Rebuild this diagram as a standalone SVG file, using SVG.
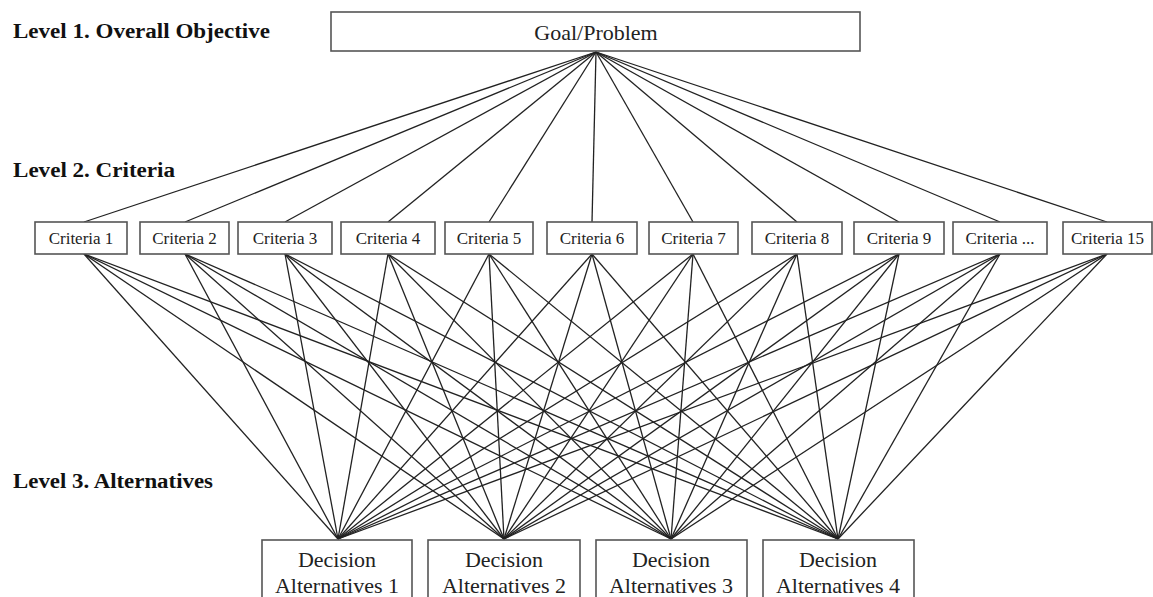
<svg xmlns="http://www.w3.org/2000/svg" width="1153" height="597" viewBox="0 0 1153 597">
<style>
.box{fill:#fff;stroke:#555;stroke-width:1.6}
.lbl{font-family:"Liberation Serif","Times New Roman",serif;font-weight:bold;font-size:20px;fill:#111}
.ct{font-family:"Liberation Serif","Times New Roman",serif;font-size:17px;fill:#222;text-anchor:middle}
.gt{font-family:"Liberation Serif","Times New Roman",serif;font-size:22px;fill:#222;text-anchor:middle}
.at{font-family:"Liberation Serif","Times New Roman",serif;font-size:22px;fill:#222;text-anchor:middle}
.cn line{stroke:#222;stroke-width:1.3}
</style>
<rect width="1153" height="597" fill="#fff"/>
<g id="labels">
<text class="lbl" x="13" y="38" textLength="257" lengthAdjust="spacingAndGlyphs">Level 1. Overall Objective</text>
<text class="lbl" x="13" y="177" textLength="162" lengthAdjust="spacingAndGlyphs">Level 2. Criteria</text>
<text class="lbl" x="13" y="488" textLength="200" lengthAdjust="spacingAndGlyphs">Level 3. Alternatives</text>
</g>
<g class="cn" id="connectors">
<line x1="596" y1="52" x2="84" y2="222"/>
<line x1="596" y1="52" x2="185" y2="222"/>
<line x1="596" y1="52" x2="285" y2="222"/>
<line x1="596" y1="52" x2="388" y2="222"/>
<line x1="596" y1="52" x2="489" y2="222"/>
<line x1="596" y1="52" x2="592" y2="222"/>
<line x1="596" y1="52" x2="693" y2="222"/>
<line x1="596" y1="52" x2="797" y2="222"/>
<line x1="596" y1="52" x2="899" y2="222"/>
<line x1="596" y1="52" x2="1000" y2="222"/>
<line x1="596" y1="52" x2="1107" y2="222"/>
<g id="bottom-lines">
<line x1="84" y1="254" x2="338" y2="539"/><line x1="84" y1="254" x2="504" y2="539"/><line x1="84" y1="254" x2="671" y2="539"/><line x1="84" y1="254" x2="838" y2="539"/>
<line x1="185" y1="254" x2="338" y2="539"/><line x1="185" y1="254" x2="504" y2="539"/><line x1="185" y1="254" x2="671" y2="539"/><line x1="185" y1="254" x2="838" y2="539"/>
<line x1="285" y1="254" x2="338" y2="539"/><line x1="285" y1="254" x2="504" y2="539"/><line x1="285" y1="254" x2="671" y2="539"/><line x1="285" y1="254" x2="838" y2="539"/>
<line x1="388" y1="254" x2="338" y2="539"/><line x1="388" y1="254" x2="504" y2="539"/><line x1="388" y1="254" x2="671" y2="539"/><line x1="388" y1="254" x2="838" y2="539"/>
<line x1="489" y1="254" x2="338" y2="539"/><line x1="489" y1="254" x2="504" y2="539"/><line x1="489" y1="254" x2="671" y2="539"/><line x1="489" y1="254" x2="838" y2="539"/>
<line x1="592" y1="254" x2="338" y2="539"/><line x1="592" y1="254" x2="504" y2="539"/><line x1="592" y1="254" x2="671" y2="539"/><line x1="592" y1="254" x2="838" y2="539"/>
<line x1="693" y1="254" x2="338" y2="539"/><line x1="693" y1="254" x2="504" y2="539"/><line x1="693" y1="254" x2="671" y2="539"/><line x1="693" y1="254" x2="838" y2="539"/>
<line x1="797" y1="254" x2="338" y2="539"/><line x1="797" y1="254" x2="504" y2="539"/><line x1="797" y1="254" x2="671" y2="539"/><line x1="797" y1="254" x2="838" y2="539"/>
<line x1="899" y1="254" x2="338" y2="539"/><line x1="899" y1="254" x2="504" y2="539"/><line x1="899" y1="254" x2="671" y2="539"/><line x1="899" y1="254" x2="838" y2="539"/>
<line x1="1000" y1="254" x2="338" y2="539"/><line x1="1000" y1="254" x2="504" y2="539"/><line x1="1000" y1="254" x2="671" y2="539"/><line x1="1000" y1="254" x2="838" y2="539"/>
<line x1="1107" y1="254" x2="338" y2="539"/><line x1="1107" y1="254" x2="504" y2="539"/><line x1="1107" y1="254" x2="671" y2="539"/><line x1="1107" y1="254" x2="838" y2="539"/>
</g>
</g>
<g id="goal"><rect class="box" x="331" y="12" width="529" height="39"/><text class="gt" x="596" y="40">Goal/Problem</text></g>
<g id="c1"><rect class="box" x="35" y="222" width="92" height="32"/><text class="ct" x="81" y="244">Criteria 1</text></g>
<g id="c2"><rect class="box" x="140" y="222" width="89" height="32"/><text class="ct" x="184.5" y="244">Criteria 2</text></g>
<g id="c3"><rect class="box" x="238" y="222" width="94" height="32"/><text class="ct" x="285" y="244">Criteria 3</text></g>
<g id="c4"><rect class="box" x="341" y="222" width="94" height="32"/><text class="ct" x="388" y="244">Criteria 4</text></g>
<g id="c5"><rect class="box" x="445" y="222" width="88" height="32"/><text class="ct" x="489" y="244">Criteria 5</text></g>
<g id="c6"><rect class="box" x="547" y="222" width="90" height="32"/><text class="ct" x="592" y="244">Criteria 6</text></g>
<g id="c7"><rect class="box" x="649" y="222" width="89" height="32"/><text class="ct" x="693.5" y="244">Criteria 7</text></g>
<g id="c8"><rect class="box" x="752" y="222" width="90" height="32"/><text class="ct" x="797" y="244">Criteria 8</text></g>
<g id="c9"><rect class="box" x="854" y="222" width="90" height="32"/><text class="ct" x="899" y="244">Criteria 9</text></g>
<g id="cdots"><rect class="box" x="953" y="222" width="94" height="32"/><text class="ct" x="1000" y="244">Criteria ...</text></g>
<g id="c15"><rect class="box" x="1063" y="222" width="89" height="32"/><text class="ct" x="1107.5" y="244">Criteria 15</text></g>
<g id="a1"><rect class="box" x="262" y="540" width="150" height="70"/><text class="at" x="337" y="567">Decision</text><text class="at" x="337" y="593">Alternatives 1</text></g>
<g id="a2"><rect class="box" x="428" y="540" width="152" height="70"/><text class="at" x="504" y="567">Decision</text><text class="at" x="504" y="593">Alternatives 2</text></g>
<g id="a3"><rect class="box" x="596" y="540" width="151" height="70"/><text class="at" x="671" y="567">Decision</text><text class="at" x="671" y="593">Alternatives 3</text></g>
<g id="a4"><rect class="box" x="763" y="540" width="151" height="70"/><text class="at" x="838" y="567">Decision</text><text class="at" x="838" y="593">Alternatives 4</text></g>
</svg>
